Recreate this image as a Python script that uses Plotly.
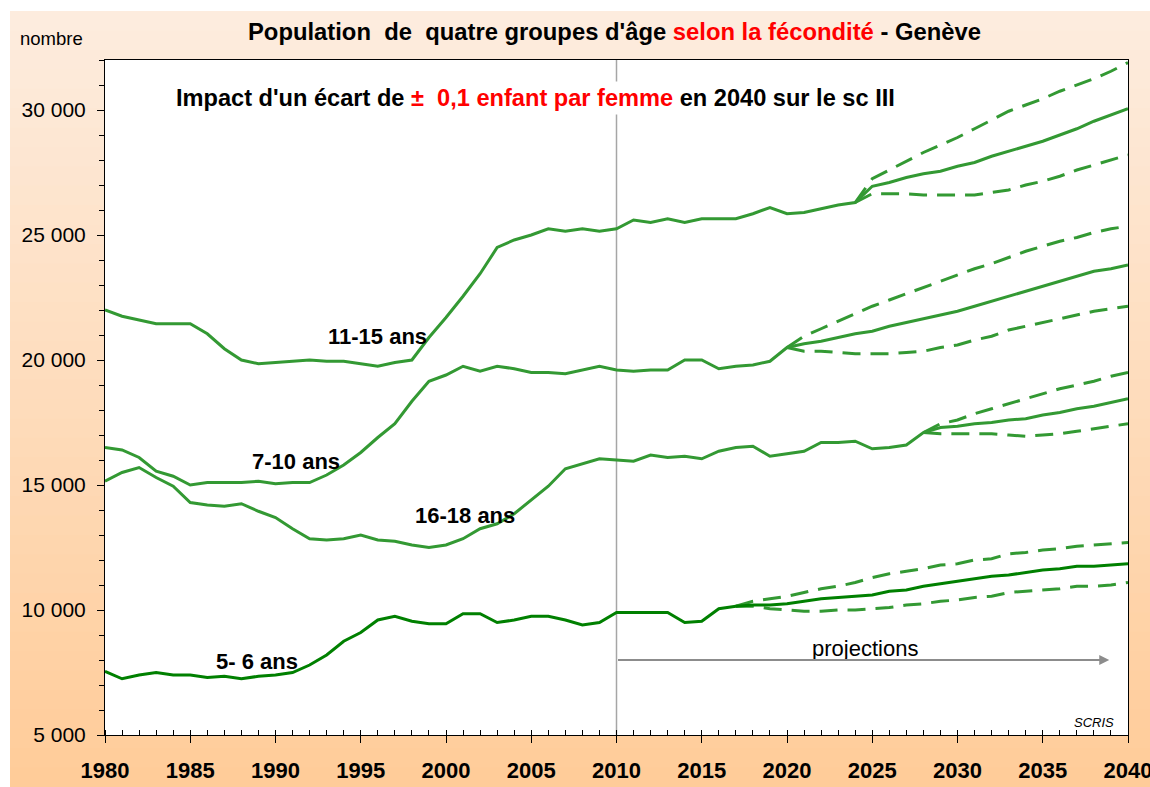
import plotly.graph_objects as go

# ---------------- data ----------------
years = list(range(1980, 2041))

age_11_15 = [22000, 21750, 21600, 21450, 21450, 21450, 21050, 20450, 20000, 19850,
             19900, 19950, 20000, 19950, 19950, 19850, 19750, 19900, 20000, 20900,
             21700, 22550, 23450, 24500, 24800, 25000, 25250, 25150, 25250, 25150,
             25250, 25600, 25500, 25650, 25500, 25650, 25650, 25650, 25850, 26100,
             25850, 25900, 26050, 26200, 26300, 26950, 27100, 27300, 27450, 27550,
             27750, 27900, 28150, 28350, 28550, 28750, 29000, 29250, 29550, 29800,
             30050]
age_11_15_years_var = list(range(2024, 2041))
age_11_15_high = [26300, 27250, 27600, 27950, 28300, 28600, 28900, 29250, 29600, 29950,
                  30200, 30450, 30750, 31000, 31250, 31550, 31900]
age_11_15_low = [26300, 26650, 26650, 26650, 26600, 26600, 26600, 26600, 26700, 26800,
                 27000, 27150, 27350, 27600, 27800, 28000, 28200]

age_7_10 = [16500, 16400, 16100, 15550, 15350, 15000, 15100, 15100, 15100, 15150,
            15050, 15100, 15100, 15400, 15800, 16300, 16900, 17450, 18350, 19150,
            19400, 19750, 19550, 19750, 19650, 19500, 19500, 19450, 19600, 19750,
            19600, 19550, 19600, 19600, 20000, 20000, 19650, 19750, 19800, 19950,
            20500, 20650, 20750, 20900, 21050, 21150, 21350, 21500, 21650, 21800,
            21950, 22150, 22350, 22550, 22750, 22950, 23150, 23350, 23550, 23650,
            23800]
age_7_10_years_var = list(range(2020, 2041))
age_7_10_high = [20500, 20950, 21250, 21550, 21850, 22150, 22400, 22650, 22900, 23150,
                 23400, 23650, 23850, 24100, 24350, 24550, 24750, 24900, 25100, 25250,
                 25350]
age_7_10_low = [20500, 20350, 20350, 20300, 20250, 20250, 20250, 20300, 20350, 20500,
                20600, 20800, 20950, 21200, 21350, 21500, 21650, 21800, 21950, 22050,
                22150]

age_16_18 = [15150, 15500, 15700, 15300, 14950, 14300, 14200, 14150, 14250, 13950,
             13700, 13250, 12850, 12800, 12850, 13000, 12800, 12750, 12600, 12500,
             12600, 12850, 13250, 13450, 13850, 14400, 14950, 15650, 15850, 16050,
             16000, 15950, 16200, 16100, 16150, 16050, 16350, 16500, 16550, 16150,
             16250, 16350, 16700, 16700, 16750, 16450, 16500, 16600, 17100, 17300,
             17350, 17450, 17500, 17600, 17650, 17800, 17900, 18050, 18150, 18300,
             18450]
age_16_18_years_var = list(range(2028, 2041))
age_16_18_high = [17100, 17450, 17600, 17850, 18050, 18250, 18450, 18650, 18850, 19000,
                  19150, 19350, 19500]
age_16_18_low = [17100, 17050, 17050, 17050, 17050, 17000, 16950, 17000, 17050, 17150,
                 17250, 17350, 17450]

age_5_6 = [7550, 7250, 7400, 7500, 7400, 7400, 7300, 7350, 7250, 7350,
           7400, 7500, 7800, 8200, 8750, 9100, 9600, 9750, 9550, 9450,
           9450, 9850, 9850, 9500, 9600, 9750, 9750, 9600, 9400, 9500,
           9900, 9900, 9900, 9900, 9500, 9550, 10050, 10150, 10200, 10200,
           10250, 10350, 10450, 10500, 10550, 10600, 10750, 10800, 10950, 11050,
           11150, 11250, 11350, 11400, 11500, 11600, 11650, 11750, 11750, 11800,
           11850]
age_5_6_years_var = list(range(2017, 2041))
age_5_6_high = [10150, 10350, 10450, 10550, 10700, 10850, 10950, 11100, 11300, 11450,
                11550, 11650, 11800, 11850, 12000, 12050, 12250, 12300, 12400, 12450,
                12550, 12600, 12650, 12700]
age_5_6_low = [10150, 10150, 10050, 10000, 9950, 9950, 10000, 10000, 10050, 10100,
               10200, 10250, 10350, 10400, 10500, 10550, 10700, 10750, 10800, 10850,
               10950, 10950, 11000, 11100]

x_tick_vals = list(range(1980, 2041, 5))
y_tick_vals = [5000, 10000, 15000, 20000, 25000, 30000]
y_tick_text = ["5 000", "10 000", "15 000", "20 000", "25 000", "30 000"]

# ---------------- styling ----------------
FONT = "Liberation Sans, Arial, sans-serif"
GREEN = "#339933"
DARK_GREEN = "#008000"
LW = 3
DASH = "18px,10px"

fig = go.Figure()

groups = [
    (age_11_15, age_11_15_years_var, age_11_15_high, age_11_15_low, GREEN, "11-15 ans"),
    (age_7_10, age_7_10_years_var, age_7_10_high, age_7_10_low, GREEN, "7-10 ans"),
    (age_16_18, age_16_18_years_var, age_16_18_high, age_16_18_low, GREEN, "16-18 ans"),
    (age_5_6, age_5_6_years_var, age_5_6_high, age_5_6_low, DARK_GREEN, "5- 6 ans"),
]
for solid, yv, hi, lo, col, name in groups:
    assert len(solid) == len(years) and len(hi) == len(yv) and len(lo) == len(yv)
    fig.add_trace(go.Scatter(x=yv, y=hi, mode="lines", line=dict(color=GREEN, width=LW, dash=DASH),
                             showlegend=False, hoverinfo="skip"))
    fig.add_trace(go.Scatter(x=yv, y=lo, mode="lines", line=dict(color=GREEN, width=LW, dash=DASH),
                             showlegend=False, hoverinfo="skip"))
    fig.add_trace(go.Scatter(x=years, y=solid, mode="lines", line=dict(color=col, width=LW),
                             name=name, showlegend=False))

# ---------------- background (gradient panel) ----------------
L, R, T, B = 105, 22, 60, 52
W, H = 1150, 787
pw, ph = W - L - R, H - T - B


def px_to_paper_x(px):
    return (px - L) / pw


def py_to_paper_y(py):
    return (H - B - py) / ph


shapes = []
top_c = (253, 236, 222)
bot_c = (255, 204, 153)
n = 40
y_top, y_bot = 11, 787
for i in range(n):
    t = i / (n - 1)
    c = tuple(round(top_c[k] + (bot_c[k] - top_c[k]) * t) for k in range(3))
    y0 = y_top + (y_bot - y_top) * i / n
    y1 = y_top + (y_bot - y_top) * (i + 1) / n + 0.8
    shapes.append(dict(type="rect", xref="paper", yref="paper", layer="below",
                       x0=px_to_paper_x(10), x1=px_to_paper_x(1150),
                       y0=py_to_paper_y(min(y1, y_bot)), y1=py_to_paper_y(y0),
                       line=dict(width=0), fillcolor="rgb(%d,%d,%d)" % c))
shapes.append(dict(type="rect", xref="paper", yref="paper", layer="below",
                   x0=0, x1=1, y0=0, y1=1, line=dict(width=0), fillcolor="white"))
shapes.append(dict(type="line", xref="x", yref="paper", layer="below",
                   x0=2010, x1=2010, y0=0, y1=1, line=dict(color="#A6A6A6", width=1.5)))

LABEL_FONT = dict(family=FONT, size=22, color="black")
annotations = [
    dict(xref="paper", yref="paper", x=px_to_paper_x(614), y=py_to_paper_y(31),
         text="<b>Population\u00a0 de\u00a0 quatre groupes d'âge <span style='color:#FF0000'>selon la fécondité</span> - Genève</b>",
         showarrow=False, font=dict(family=FONT, size=23.8, color="black"), xanchor="center", yanchor="middle"),
    dict(xref="paper", yref="paper", x=px_to_paper_x(18), y=py_to_paper_y(38),
         text="nombre", showarrow=False, font=dict(family=FONT, size=18.5, color="black"),
         xanchor="left", yanchor="middle"),
    dict(xref="paper", yref="paper", x=px_to_paper_x(535.5), y=py_to_paper_y(98),
         text="<b>Impact d'un écart de <span style='color:#FF0000'>±\u00a0 0,1 enfant par femme</span> en 2040 sur le sc III</b>",
         showarrow=False, font=dict(family=FONT, size=23.6, color="black"), xanchor="center", yanchor="middle",
         bgcolor="white", borderpad=3),
    dict(x=1996.0, y=20950, text="<b>11-15 ans</b>", showarrow=False, font=LABEL_FONT),
    dict(x=1991.2, y=15930, text="<b>7-10 ans</b>", showarrow=False, font=LABEL_FONT),
    dict(x=2001.1, y=13800, text="<b>16-18 ans</b>", showarrow=False, font=LABEL_FONT),
    dict(x=1988.9, y=7930, text="<b>5- 6 ans</b>", showarrow=False, font=LABEL_FONT),
    dict(x=2024.6, y=8450, text="projections", showarrow=False,
         font=dict(family=FONT, size=22, color="black")),
    dict(x=2038.9, y=8000, ax=2010, ay=8000, xref="x", yref="y", axref="x", ayref="y",
         text="", showarrow=True, arrowhead=2, arrowsize=1, arrowwidth=2, arrowcolor="#8C8C8C",
         standoff=0, startstandoff=0),
    dict(xref="paper", yref="paper", x=px_to_paper_x(1116), y=py_to_paper_y(722),
         text="<i>SCRIS</i>", showarrow=False, font=dict(family=FONT, size=13, color="black"),
         xanchor="right", yanchor="middle"),
]

fig.update_layout(
    width=W, height=H, autosize=False,
    margin=dict(l=L, r=R, t=T, b=B, pad=0, autoexpand=False),
    paper_bgcolor="white", plot_bgcolor="rgba(0,0,0,0)",
    shapes=shapes, annotations=annotations,
    showlegend=False,
    font=dict(family=FONT, color="black"),
    xaxis=dict(range=[1980, 2040], tickvals=x_tick_vals, ticks="outside", ticklen=7,
               tickcolor="black", tickwidth=1, automargin=False,
               tickfont=dict(family=FONT, size=22, color="black", weight="bold"),
               ticklabelstandoff=9, ticklabeloverflow="allow",
               minor=dict(dtick=1, ticks="inside", ticklen=5, tickcolor="black", tickwidth=1, showgrid=False),
               showgrid=False, zeroline=False, showline=True, linecolor="black", linewidth=1, mirror=True),
    yaxis=dict(range=[5000, 32000], tickvals=y_tick_vals, ticktext=y_tick_text, ticks="outside",
               ticklen=7, tickcolor="black", tickwidth=1, automargin=False,
               tickfont=dict(family=FONT, size=21, color="black"),
               ticklabelstandoff=7, ticklabeloverflow="allow",
               minor=dict(dtick=1000, tick0=5000, ticks="outside", ticklen=5, tickcolor="black", tickwidth=1,
                          showgrid=False),
               showgrid=False, zeroline=False, showline=True, linecolor="black", linewidth=1, mirror=True),
)

fig.write_html("out.html", config={"displayModeBar": False},
               post_script="document.body.style.margin='0';document.body.style.overflow='hidden';")
